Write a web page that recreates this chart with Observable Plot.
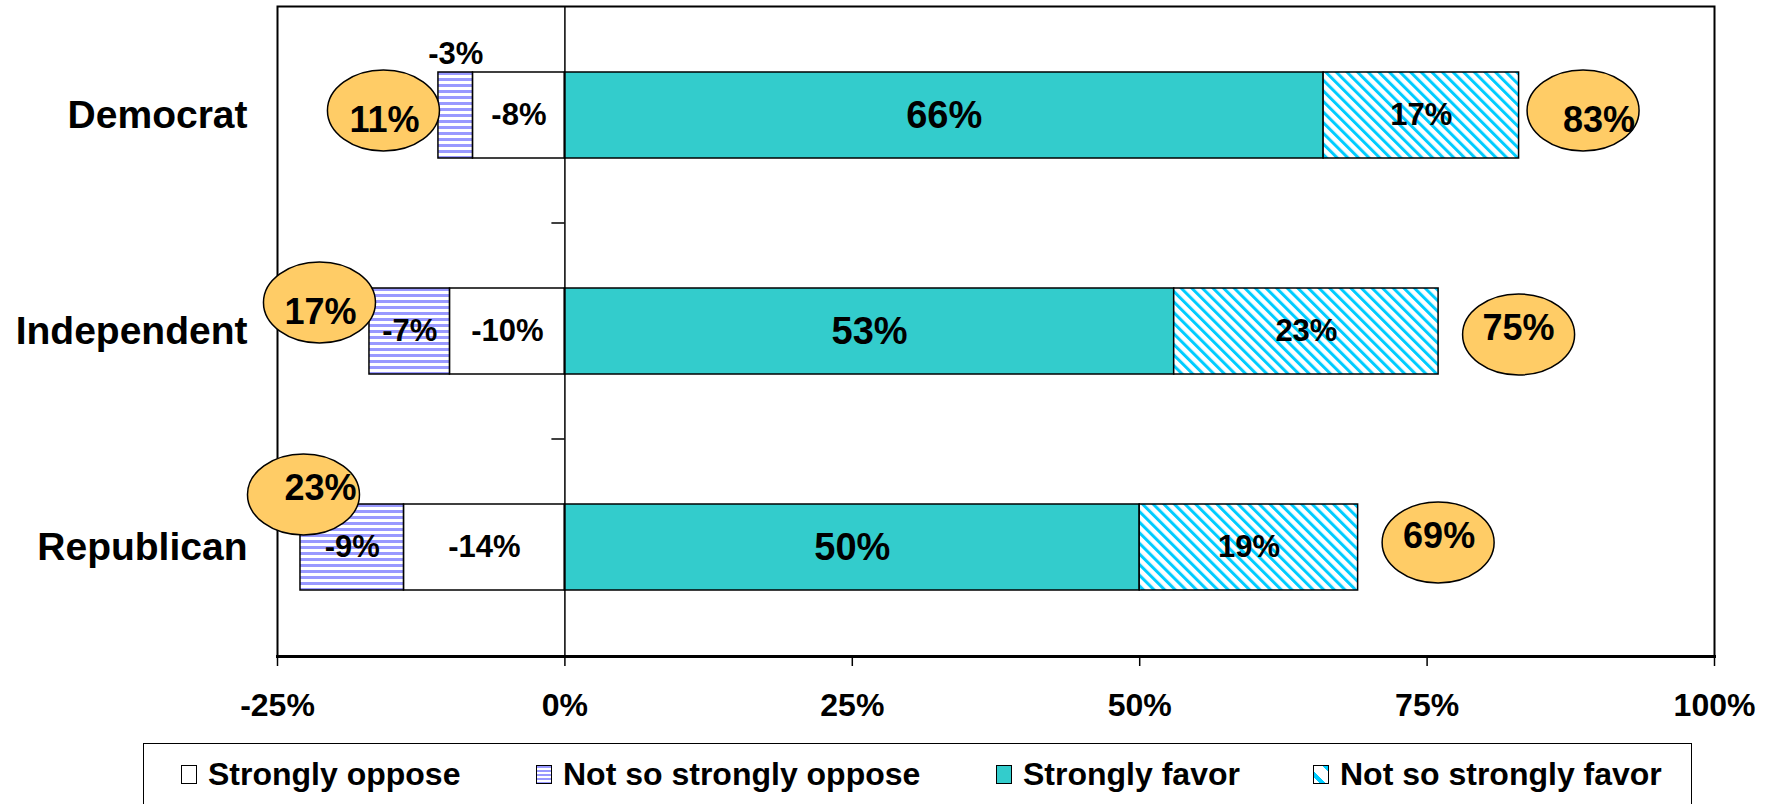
<!DOCTYPE html>
<html>
<head>
<meta charset="utf-8">
<script src="https://cdn.jsdelivr.net/npm/d3@7"></script>
<script src="https://cdn.jsdelivr.net/npm/@observablehq/plot@0.6"></script>
<style>
  html, body { margin: 0; padding: 0; background: #fff; }
  body { width: 1772px; height: 804px; overflow: hidden; font-family: "Liberation Sans", Arial, sans-serif; }
  #chart svg { display: block; }
  .legend { position: relative; margin-left: 143px; margin-top: 7px; width: 1549px; height: 70px; border: 1.5px solid #000; box-sizing: border-box; }
  .legend .item { position: absolute; top: 12px; display: flex; align-items: center; font-weight: bold; font-size: 32px; color: #000; white-space: nowrap; }
  .legend .sw { width: 16px; height: 19px; border: 1px solid #000; margin-right: 11px; box-sizing: border-box; }
</style>
</head>
<body>
<div id="chart"></div>
<script>
// ---- data ----
const categories = ["Democrat", "Independent", "Republican"];
const seriesNames = ["Strongly oppose", "Not so strongly oppose", "Strongly favor", "Not so strongly favor"];
const stronglyOppose = [-8, -10, -14];
const notSoStronglyOppose = [-3, -7, -9];
const stronglyFavor = [66, 53, 50];
const notSoStronglyFavor = [17, 23, 19];
const totalOppose = [11, 17, 23];
const totalFavor = [83, 75, 69];
const xTicks = [-25, 0, 25, 50, 75, 100];

// ---- tables built from the arrays ----
const seriesValues = [stronglyOppose, notSoStronglyOppose, stronglyFavor, notSoStronglyFavor];
const rows = categories.flatMap((c, i) =>
  seriesNames.map((s, j) => ({category: c, series: s, value: seriesValues[j][i]}))
);
const callouts = categories.flatMap((c, i) => [
  {key: c + "-L", category: c, anchor: stronglyOppose[i] + notSoStronglyOppose[i], label: totalOppose[i] + "%"},
  {key: c + "-R", category: c, anchor: stronglyFavor[i] + notSoStronglyFavor[i], label: totalFavor[i] + "%"}
]);

// ---- styling / layout (pixel nudges of the hand-placed callouts) ----
const nudge = {
  "Democrat-L":    {dx: -55, dy: -5,  tdx: -54, tdy: 5},
  "Democrat-R":    {dx: 64,  dy: -5,  tdx: 80,  tdy: 5},
  "Independent-L": {dx: -50, dy: -29, tdx: -49, tdy: -19},
  "Independent-R": {dx: 80,  dy: 3,   tdx: 80,  tdy: -3},
  "Republican-L":  {dx: 3,   dy: -53, tdx: 20,  tdy: -59},
  "Republican-R":  {dx: 80,  dy: -5,  tdx: 81,  tdy: -11}
};
const fills = ["#ffffff", "url(#hstripe)", "#33CCCC", "url(#dstripe)"];

const ellipse = {
  draw(ctx) {
    const rx = 56, ry = 40.5, k = 0.5523;
    ctx.moveTo(rx, 0);
    ctx.bezierCurveTo(rx, ry * k, rx * k, ry, 0, ry);
    ctx.bezierCurveTo(-rx * k, ry, -rx, ry * k, -rx, 0);
    ctx.bezierCurveTo(-rx, -ry * k, -rx * k, -ry, 0, -ry);
    ctx.bezierCurveTo(rx * k, -ry, rx, -ry * k, rx, 0);
    ctx.closePath();
  }
};

function separatorTicks(index, scales) {
  const {x, y} = scales;
  const bw = y.bandwidth ? y.bandwidth() : 0;
  const centers = categories.map(c => y(c) + bw / 2);
  const g = d3.create("svg:g");
  for (let i = 0; i < centers.length - 1; i++) {
    const yy = (centers[i] + centers[i + 1]) / 2;
    g.append("line").attr("x1", x(0) - 13).attr("x2", x(0)).attr("y1", yy).attr("y2", yy)
      .attr("stroke", "#000").attr("stroke-width", 1.5);
  }
  return g.node();
}

const fmt = v => `${v}%`;

const calloutMarks = callouts.flatMap(d => {
  const n = nudge[d.key];
  return [
    Plot.dot([d], {x: "anchor", y: "category", symbol: ellipse, r: 40, fill: "#FFCC66", stroke: "#000", strokeWidth: 1.5, dx: n.dx, dy: n.dy}),
    Plot.text([d], {x: "anchor", y: "category", text: "label", fontSize: 36, fontWeight: "bold", fill: "#000", dx: n.tdx, dy: n.tdy})
  ];
});

const chart = Plot.plot({
  width: 1772,
  height: 736,
  marginTop: 6,
  marginRight: 58,
  marginBottom: 80,
  marginLeft: 277,
  style: {fontFamily: "'Liberation Sans', Arial, sans-serif", fontWeight: "bold", color: "#000", background: "#fff", overflow: "visible"},
  x: {domain: [-25, 100]},
  y: {domain: categories, paddingInner: 0.6, paddingOuter: 0.3},
  color: {domain: seriesNames, range: fills},
  marks: [
    Plot.frame({stroke: "#000", strokeWidth: 2}),
    Plot.barX(rows, Plot.stackX({x: "value", y: "category", fill: "series", stroke: "#000", strokeWidth: 1.5})),
    Plot.ruleX([0], {stroke: "#000", strokeWidth: 1.5}),
    separatorTicks,
    Plot.frame({anchor: "bottom", stroke: "#000", strokeWidth: 3}),
    Plot.axisX({ticks: xTicks, tickFormat: fmt, tickSize: 10, tickPadding: 27, fontSize: 32, fontWeight: "bold", stroke: "#000", strokeWidth: 1.5, label: null}),
    Plot.axisY({tickSize: 0, tickPadding: 30, fontSize: 39, fontWeight: "bold", label: null}),
    Plot.text(rows, Plot.stackX({x: "value", y: "category", z: "series",
      text: d => d.series === "Strongly favor" ? fmt(d.value) : null, fontSize: 38, fontWeight: "bold", fill: "#000"})),
    Plot.text(rows, Plot.stackX({x: "value", y: "category", z: "series",
      text: d => d.series !== "Strongly favor" && Math.abs(d.value) > 3 ? fmt(d.value) : null, fontSize: 31, fontWeight: "bold", fill: "#000"})),
    Plot.text(rows, Plot.stackX({x: "value", y: "category", z: "series",
      text: d => Math.abs(d.value) <= 3 ? fmt(d.value) : null, fontSize: 31, fontWeight: "bold", fill: "#000", dy: -61})),
    ...calloutMarks
  ]
});

// pattern fills
const defs = d3.select(chart).insert("defs", ":first-child");
const hp = defs.append("pattern").attr("id", "hstripe").attr("patternUnits", "userSpaceOnUse").attr("width", 8).attr("height", 6);
hp.append("rect").attr("width", 8).attr("height", 6).attr("fill", "#fff");
hp.append("rect").attr("y", 0).attr("width", 8).attr("height", 3).attr("fill", "#9999FF");
const dp = defs.append("pattern").attr("id", "dstripe").attr("patternUnits", "userSpaceOnUse").attr("width", 7.5).attr("height", 7.5).attr("patternTransform", "rotate(-45)");
dp.append("rect").attr("width", 7.5).attr("height", 7.5).attr("fill", "#fff");
dp.append("rect").attr("width", 3).attr("height", 7.5).attr("fill", "#00CCFF");

document.getElementById("chart").appendChild(chart);

// legend (below the SVG)
const swatchCss = [
  "background:#fff",
  "background:repeating-linear-gradient(to bottom,#9999FF 0 2px,#fff 2px 4px)",
  "background:#33CCCC",
  "background:repeating-linear-gradient(45deg,#fff 0 4px,#00CCFF 4px 8px,#fff 8px 14px)"
];
const legendLeft = [37, 392, 852, 1169];
const legend = d3.select("body").append("div").attr("class", "legend");
seriesNames.forEach((s, i) => {
  const it = legend.append("div").attr("class", "item").style("left", legendLeft[i] + "px");
  it.append("div").attr("class", "sw").attr("style", swatchCss[i]);
  it.append("span").text(s);
});
</script>
</body>
</html>
